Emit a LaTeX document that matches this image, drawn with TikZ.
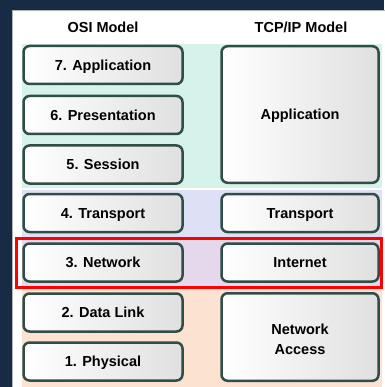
\documentclass[tikz,border=0pt]{standalone}
\usepackage{fontspec}
\setmainfont{Liberation Sans}
\definecolor{navy}{HTML}{182B45}
\definecolor{boxline}{HTML}{304D47}
\definecolor{boxgray}{HTML}{E0E0E0}
\definecolor{bandapp}{HTML}{D5F2EB}
\definecolor{bandtra}{HTML}{DEE1F6}
\definecolor{bandnet}{HTML}{E6D8EC}
\definecolor{bandacc}{HTML}{FBE2D1}
\tikzset{
	layer/.style={draw=boxline, line width=2.5pt, rounded corners=6pt,
		left color=white, right color=boxgray, inner sep=0pt,
		minimum width=159pt, minimum height=38pt, align=center,
		text height=10.4pt, text depth=0pt,
		font=\fontsize{14.5}{20}\selectfont\bfseries},
	heading/.style={font=\fontsize{14.5}{17}\selectfont\bfseries,
		text height=10.4pt, text depth=0pt}
}

\begin{document}
\begin{tikzpicture}[x=1pt, y=-1pt]
		%%%%% START %%%%%
		\useasboundingbox (0, 0) rectangle (384, 387);
		
		\fill[navy] (0, 0) rectangle (384, 387);
		\draw[fill=white, draw=gray!60, line width=1.5pt] (12.5, 10.5) rectangle (386, 390);
		
		% colour bands behind the layers
		\fill[bandapp] (22, 44) rectangle (382, 188);
		\fill[bandtra] (22, 190) rectangle (382, 237);
		\fill[bandnet] (22, 239) rectangle (382, 287);
		\fill[bandacc] (22, 289) rectangle (382, 387);
		
		\node[heading] (osi) at (103, 27.5) {OSI Model};
		\node[heading] (tcpip) at (301, 27.5) {TCP/IP Model};
		
		% OSI layers
		\node[layer] (application) at (103, 65) {7. Application};
		\node[layer] (presentation) at (103, 115) {6. Presentation};
		\node[layer] (session) at (103, 164.5) {5. Session};
		\node[layer] (transport) at (103, 213) {4. Transport};
		\node[layer] (network) at (103, 262.5) {3. Network};
		\node[layer] (datalink) at (103, 312.5) {2. Data Link};
		\node[layer] (physical) at (103, 361.5) {1. Physical};
		
		% TCP/IP layers
		\node[layer, minimum width=157pt, minimum height=136.5pt] (tcpapp) at (300, 114.5) {Application};
		\node[layer, minimum width=157pt] (tcptra) at (300, 213) {Transport};
		\node[layer, minimum width=157pt] (internet) at (300, 262.5) {Internet};
		\node[layer, minimum width=157pt, minimum height=87.5pt,
			text height=34.4pt, text depth=0pt] (access) at (300, 337) {Network\\Access};
		
		% highlight
		\draw[red, line width=3pt] (16.5, 238) rectangle (381.5, 287);
		
		%%%%% END %%%%%
	\end{tikzpicture}
\end{document}
